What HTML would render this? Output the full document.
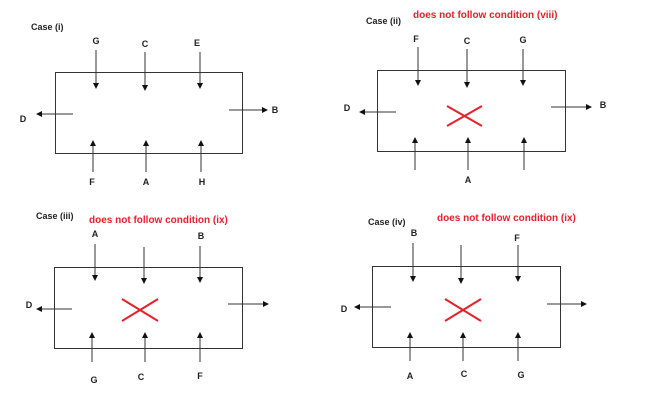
<!DOCTYPE html>
<html><head><meta charset="utf-8"><style>
html,body{margin:0;padding:0;background:#fff;}
svg{display:block;}
text{font-family:"Liberation Sans",sans-serif;font-weight:bold;font-size:9px;fill:#222;}
.r{fill:#e8202a;font-size:10px;}
.l{stroke:#333;stroke-width:1;fill:none;}
.x{stroke:#e8202a;stroke-width:2;}
</style></head><body>
<svg width="652" height="409" viewBox="0 0 652 409">
<defs><marker id="a" markerWidth="6" markerHeight="6" refX="5" refY="3" orient="auto" markerUnits="userSpaceOnUse"><path d="M0,0 L6,3 L0,6 z" fill="#111"/></marker></defs>
<g class="l">
<!-- case i -->
<rect x="55.5" y="72.5" width="187" height="81"/>
<line x1="96" y1="50" x2="96" y2="88" marker-end="url(#a)"/>
<line x1="145" y1="52" x2="145" y2="90" marker-end="url(#a)"/>
<line x1="200" y1="52" x2="200" y2="88" marker-end="url(#a)"/>
<line x1="93" y1="172" x2="93" y2="141" marker-end="url(#a)"/>
<line x1="146" y1="172" x2="146" y2="141" marker-end="url(#a)"/>
<line x1="201" y1="172" x2="201" y2="141" marker-end="url(#a)"/>
<line x1="73" y1="114" x2="37" y2="114" marker-end="url(#a)"/>
<line x1="229" y1="110" x2="267" y2="110" marker-end="url(#a)"/>
<!-- case ii -->
<rect x="377.5" y="70.5" width="188" height="81"/>
<line x1="418" y1="47" x2="418" y2="85" marker-end="url(#a)"/>
<line x1="467" y1="49" x2="467" y2="87" marker-end="url(#a)"/>
<line x1="523" y1="49" x2="523" y2="85" marker-end="url(#a)"/>
<line x1="415" y1="170" x2="415" y2="138" marker-end="url(#a)"/>
<line x1="468" y1="170" x2="468" y2="138" marker-end="url(#a)"/>
<line x1="524" y1="170" x2="524" y2="138" marker-end="url(#a)"/>
<line x1="396" y1="112" x2="360" y2="112" marker-end="url(#a)"/>
<line x1="551" y1="107" x2="591" y2="107" marker-end="url(#a)"/>
<!-- case iii -->
<rect x="54.5" y="267.5" width="188" height="81"/>
<line x1="95" y1="244" x2="95" y2="280" marker-end="url(#a)"/>
<line x1="144" y1="247" x2="144" y2="283" marker-end="url(#a)"/>
<line x1="200" y1="246" x2="200" y2="282" marker-end="url(#a)"/>
<line x1="92" y1="362" x2="92" y2="333" marker-end="url(#a)"/>
<line x1="145" y1="362" x2="145" y2="333" marker-end="url(#a)"/>
<line x1="200" y1="362" x2="200" y2="333" marker-end="url(#a)"/>
<line x1="72" y1="309" x2="37" y2="309" marker-end="url(#a)"/>
<line x1="228" y1="304" x2="268" y2="304" marker-end="url(#a)"/>
<!-- case iv -->
<rect x="372.5" y="266.5" width="188" height="81"/>
<line x1="413" y1="243" x2="413" y2="281" marker-end="url(#a)"/>
<line x1="461" y1="245" x2="461" y2="283" marker-end="url(#a)"/>
<line x1="518" y1="245" x2="518" y2="281" marker-end="url(#a)"/>
<line x1="410" y1="361" x2="410" y2="333" marker-end="url(#a)"/>
<line x1="463" y1="361" x2="463" y2="333" marker-end="url(#a)"/>
<line x1="518" y1="361" x2="518" y2="333" marker-end="url(#a)"/>
<line x1="391" y1="307" x2="355" y2="307" marker-end="url(#a)"/>
<line x1="547" y1="304" x2="586" y2="304" marker-end="url(#a)"/>
</g>
<g class="x">
<line x1="447" y1="106" x2="482" y2="126"/><line x1="447" y1="126" x2="482" y2="106"/>
<line x1="122" y1="299" x2="158" y2="321"/><line x1="122" y1="321" x2="158" y2="299"/>
<line x1="445" y1="299" x2="481" y2="321"/><line x1="445" y1="321" x2="481" y2="299"/>
</g>
<text x="31" y="30">Case (i)</text>
<text x="96" y="44" text-anchor="middle">G</text>
<text x="145" y="47" text-anchor="middle">C</text>
<text x="197" y="46" text-anchor="middle">E</text>
<text x="92" y="185" text-anchor="middle">F</text>
<text x="146" y="185" text-anchor="middle">A</text>
<text x="202" y="185" text-anchor="middle">H</text>
<text x="23" y="122" text-anchor="middle">D</text>
<text x="275" y="113" text-anchor="middle">B</text>

<text x="366" y="24">Case (ii)</text>
<text x="413" y="18" class="r">does not follow condition (viii)</text>
<text x="416" y="42" text-anchor="middle">F</text>
<text x="467" y="44" text-anchor="middle">C</text>
<text x="523" y="43" text-anchor="middle">G</text>
<text x="468" y="183" text-anchor="middle">A</text>
<text x="347" y="111" text-anchor="middle">D</text>
<text x="603" y="108" text-anchor="middle">B</text>

<text x="36" y="219">Case (iii)</text>
<text x="89" y="223" class="r">does not follow condition (ix)</text>
<text x="95" y="237" text-anchor="middle">A</text>
<text x="201" y="239" text-anchor="middle">B</text>
<text x="94" y="383" text-anchor="middle">G</text>
<text x="141" y="380" text-anchor="middle">C</text>
<text x="200" y="379" text-anchor="middle">F</text>
<text x="29" y="308" text-anchor="middle">D</text>

<text x="368" y="225">Case (iv)</text>
<text x="437" y="221" class="r">does not follow condition (ix)</text>
<text x="414" y="236" text-anchor="middle">B</text>
<text x="517" y="241" text-anchor="middle">F</text>
<text x="410" y="379" text-anchor="middle">A</text>
<text x="464" y="377" text-anchor="middle">C</text>
<text x="521" y="378" text-anchor="middle">G</text>
<text x="344" y="312" text-anchor="middle">D</text>
</svg>
</body></html>
